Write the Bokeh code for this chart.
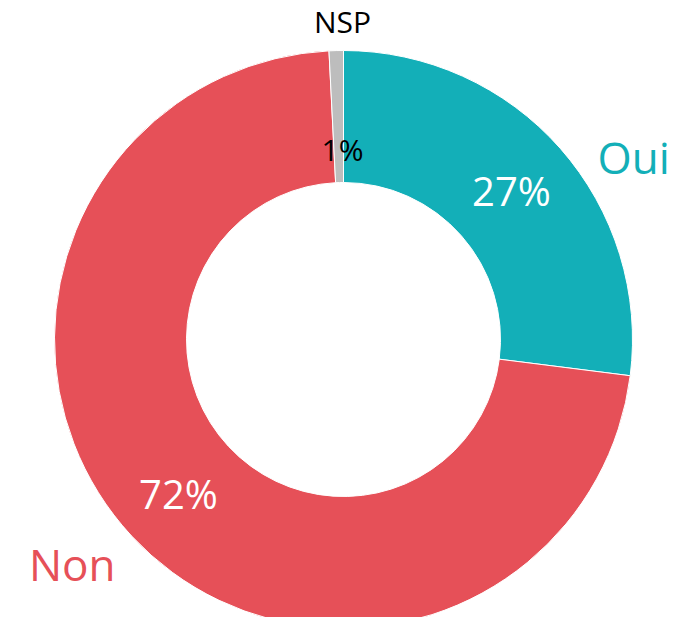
import math
from bokeh.plotting import figure
from bokeh.models import Range1d, ColumnDataSource
from bokeh.core.properties import value
from bokeh.embed import file_html
from bokeh.resources import INLINE

# data
categories = ["Oui", "Non", "NSP"]
shares = [27.0, 72.2, 0.8]
pct_labels = ["27%", "72%", "1%"]
colors = ["#13AFB8", "#E65058", "#BDBDBD"]
name_colors = ["#13AFB8", "#E65058", "#000000"]
pct_colors = ["#FFFFFF", "#FFFFFF", "#000000"]

# layout (screen-pixel like units, y flipped)
CX, CY = 343, -339
R_OUT, R_IN = 289, 157
FONT = "Open Sans"

total = sum(shares)
starts, ends = [], []
a = math.pi / 2
for s in shares:
    starts.append(a)
    a = a - 2 * math.pi * s / total
    ends.append(a)

p = figure(width=679, height=617, output_backend="svg", toolbar_location=None,
           x_range=Range1d(0, 679), y_range=Range1d(-617, 0),
           min_border=0, outline_line_color=None)
p.axis.visible = False
p.grid.visible = False
p.background_fill_color = "white"
p.border_fill_color = "white"

src = ColumnDataSource(dict(start=starts, end=ends, color=colors, cat=categories))
p.annular_wedge(x=CX, y=CY, inner_radius=R_IN, outer_radius=R_OUT,
                start_angle="start", end_angle="end", direction="clock",
                fill_color="color", line_color="white", line_width=1, source=src)

pct_sizes = ["40px", "40px", "30px"]
pct_pos = [(511, -190), (178, -493), (342, -149)]
for lab, (x, y), col, sz in zip(pct_labels, pct_pos, pct_colors, pct_sizes):
    p.text(x=[x], y=[y], text=[lab], text_color=col, text_font=value(FONT),
           text_font_size=sz, text_align="center", text_baseline="alphabetic")

name_pos = [(597, -156, "left", "44px"), (115, -563, "right", "44px"), (342, -21, "center", "30px")]
for lab, (x, y, al, sz), col in zip(categories, name_pos, name_colors):
    p.text(x=[x], y=[y], text=[lab], text_color=col, text_font=value(FONT),
           text_font_size=sz, text_align=al, text_baseline="alphabetic")

open("out.html", "w").write(file_html(p, INLINE))
